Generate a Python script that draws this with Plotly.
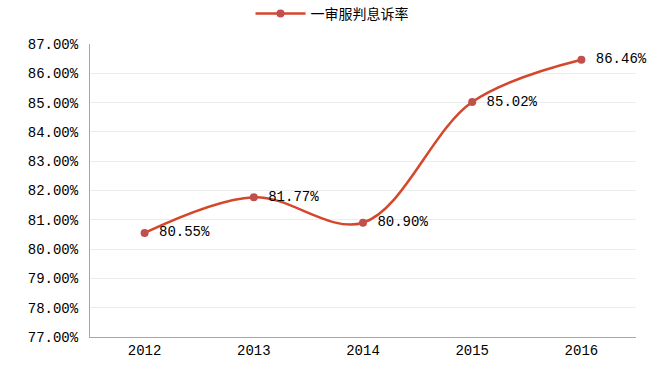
import plotly.graph_objects as go

years = ["2012", "2013", "2014", "2015", "2016"]
rates = [80.55, 81.77, 80.90, 85.02, 86.46]
labels = ["80.55%", "81.77%", "80.90%", "85.02%", "86.46%"]
series_name = "一审服判息诉率"
y_ticks = [77, 78, 79, 80, 81, 82, 83, 84, 85, 86, 87]
y_tick_text = ["%.2f%%" % v for v in y_ticks]

font_family = "Liberation Mono, DejaVu Sans Mono, Noto Sans CJK SC, monospace"

fig = go.Figure()
fig.add_trace(go.Scatter(
    x=years, y=rates, name=series_name,
    mode="lines+markers+text",
    line=dict(color="#d5472b", width=2.5, shape="spline", smoothing=1.0),
    marker=dict(color="#c0504d", size=8),
    text=[" " + t for t in labels],
    textposition="middle right",
    textfont=dict(family=font_family, size=14, color="#000000"),
    cliponaxis=False,
))

fig.update_layout(
    width=664, height=371,
    margin=dict(l=90, r=28, t=44, b=34, autoexpand=False),
    paper_bgcolor="white", plot_bgcolor="white",
    showlegend=True,
    legend=dict(orientation="h", x=0.5, xanchor="center", xref="container",
                y=1 - 14 / 371, yanchor="middle", yref="container",
                font=dict(family="Noto Sans CJK SC", size=14, color="#000"),
                itemwidth=50),
    xaxis=dict(type="category", range=[-0.5, 4.5], showline=True, linecolor="#a6a6a6",
               linewidth=1, showgrid=False, ticks="",
               tickfont=dict(family=font_family, size=14, color="#000")),
    yaxis=dict(range=[77, 87], tickvals=y_ticks, ticktext=y_tick_text,
               showline=True, linecolor="#a6a6a6", linewidth=1,
               showgrid=True, gridcolor="#ececec", gridwidth=1, ticks="",
               zeroline=False, ticklabelstandoff=8,
               tickfont=dict(family=font_family, size=14, color="#000")),
)

fig.write_html("out.html", config={"displayModeBar": False},
               post_script="document.body.style.margin='0px';")
